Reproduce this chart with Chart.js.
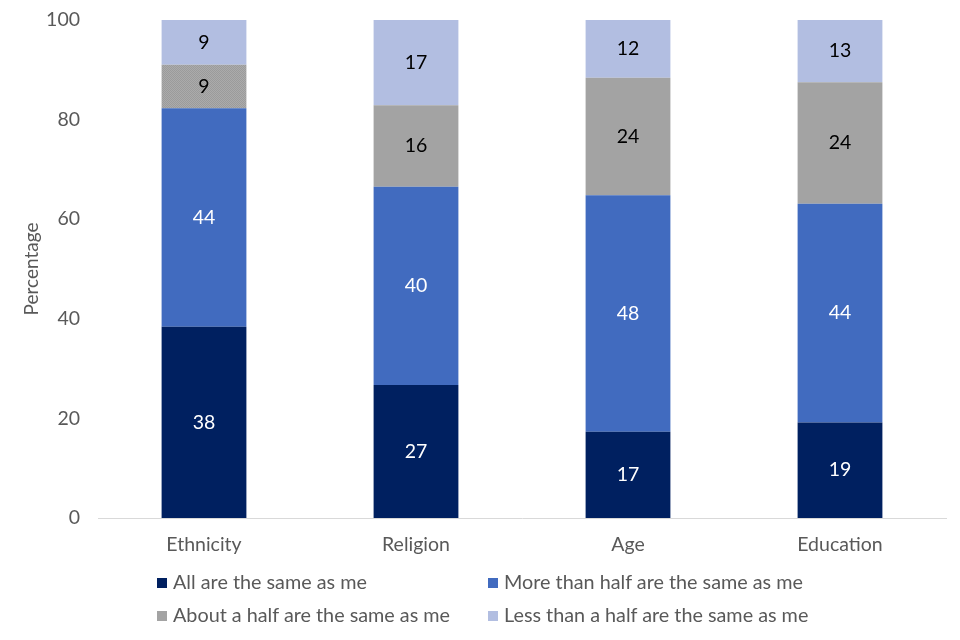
<!DOCTYPE html>
<html>
<head>
<meta charset="utf-8">
<script src="https://cdn.jsdelivr.net/npm/chart.js@4/dist/chart.umd.min.js"></script>
<style>
    body { margin: 0; background: #fff; }
    #wrap { position: relative; width: 960px; height: 640px; }
    .legend { position: absolute; font-family: Lato, sans-serif; font-size: 19.8px; color: #595959; white-space: nowrap; }
    .legend span.box { display: inline-block; width: 10px; height: 10px; margin-right: 6px; vertical-align: 1px; }
</style>
</head>
<body>
<div id="wrap">
    <canvas id="chart" width="960" height="640"></canvas>
    <div class="legend" style="left:157px; top:569px;"><span class="box" style="background:#002060"></span>All are the same as me</div>
    <div class="legend" style="left:488px; top:569px;"><span class="box" style="background:#416BBF"></span>More than half are the same as me</div>
    <div class="legend" style="left:157px; top:602px;"><span class="box" style="background:#A3A3A3"></span>About a half are the same as me</div>
    <div class="legend" style="left:488px; top:602px;"><span class="box" style="background:#B2BEE1"></span>Less than a half are the same as me</div>
</div>
<script>
// values (bars use estimated heights, labels are rounded)
const categories = ['Ethnicity', 'Religion', 'Age', 'Education'];
const seriesNames = ['All are the same as me', 'More than half are the same as me', 'About a half are the same as me', 'Less than a half are the same as me'];
const allSame = [38.4, 26.7, 17.3, 19.2];
const moreThanHalf = [43.9, 39.8, 47.5, 43.9];
const aboutHalf = [8.7, 16.4, 23.6, 24.4];
const lessThanHalf = [9.0, 17.1, 11.6, 12.5];
const yTicks = [0, 20, 40, 60, 80, 100];

const seriesColors = ['#002060', '#416BBF', '#A3A3A3', '#B2BEE1'];
const labelColors = ['#ffffff', '#ffffff', '#000000', '#000000'];
const font = 'Lato, sans-serif';

// stippled grey used for the Ethnicity segment
function makeStipple() {
    const c = document.createElement('canvas');
    c.width = 2; c.height = 2;
    const g = c.getContext('2d');
    g.fillStyle = '#ABABAB'; g.fillRect(0, 0, 2, 2);
    g.fillStyle = '#9B9B9B'; g.fillRect(0, 0, 1, 1); g.fillRect(1, 1, 1, 1);
    return g.createPattern(c, 'repeat');
}

const barLabels = {
    id: 'barLabels',
    afterDatasetsDraw(chart) {
        const ctx = chart.ctx;
        ctx.save();
        ctx.font = '19.5px ' + font;
        ctx.textAlign = 'center';
        ctx.textBaseline = 'middle';
        chart.data.datasets.forEach((ds, i) => {
            chart.getDatasetMeta(i).data.forEach((el, j) => {
                ctx.fillStyle = labelColors[i];
                ctx.fillText(Math.round(ds.data[j]), el.x, (el.y + el.base) / 2);
            });
        });
        ctx.restore();
    }
};

const seriesData = [allSame, moreThanHalf, aboutHalf, lessThanHalf];
const datasets = seriesData.map((vals, i) => ({
    label: seriesNames[i],
    data: vals,
    backgroundColor: i === 2 ? vals.map((v, j) => j === 0 ? makeStipple() : seriesColors[i]) : seriesColors[i],
    borderWidth: 0,
    barPercentage: 0.4,
    categoryPercentage: 1
}));

new Chart(document.getElementById('chart'), {
    type: 'bar',
    data: { labels: categories, datasets: datasets },
    plugins: [barLabels],
    options: {
        responsive: false,
        animation: false,
        layout: { padding: { left: 20, right: 14, top: 20, bottom: 0 } },
        plugins: {
            legend: { display: false },
            tooltip: { enabled: false }
        },
        scales: {
            x: {
                stacked: true,
                grid: { display: false, drawTicks: false },
                border: { color: '#D9D9D9', width: 1 },
                ticks: { color: '#595959', font: { family: font, size: 19.5 }, padding: 15 },
                afterFit: s => { s.height = 122; }
            },
            y: {
                stacked: true,
                min: 0,
                max: 100,
                afterBuildTicks: s => { s.ticks = yTicks.map(v => ({ value: v })); },
                grid: { display: false, drawTicks: false },
                border: { display: false },
                ticks: { color: '#595959', font: { family: font, size: 19.5 }, padding: 18 },
                title: { display: true, text: 'Percentage', color: '#595959', font: { family: font, size: 19 }, padding: 0 },
                afterFit: s => { s.width = 78; s.paddingTop = 0; s.paddingBottom = 0; }
            }
        }
    }
});
</script>
</body>
</html>
